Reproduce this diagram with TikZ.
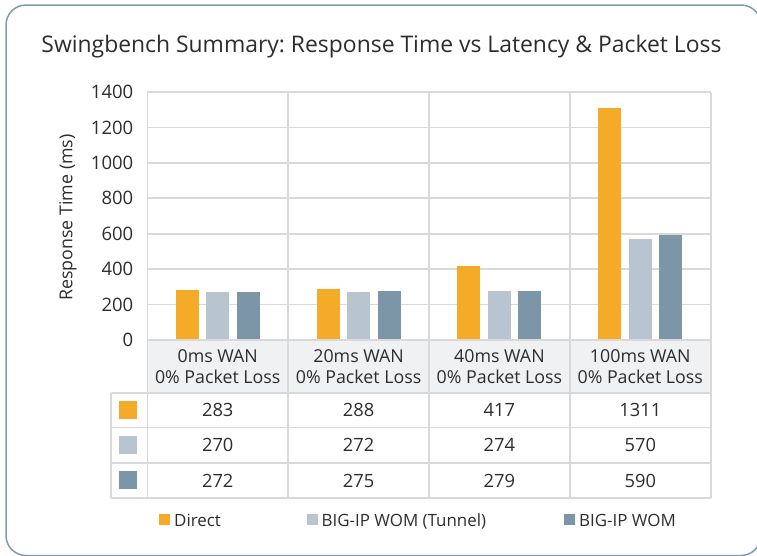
\documentclass[tikz,border=0pt]{standalone}
\usepackage{fontspec}
\setmainfont{Open Sans}
\frenchspacing
\definecolor{cDirect}{RGB}{245,170,40}
\definecolor{cTunnel}{RGB}{184,196,208}
\definecolor{cWom}{RGB}{124,150,167}
\definecolor{cGrid}{RGB}{217,217,217}
\definecolor{cHead}{RGB}{240,241,243}
\definecolor{cFrame}{RGB}{127,155,176}
\definecolor{cText}{RGB}{45,45,45}
\tikzset{
  gridline/.style={draw=cGrid,line width=1.6pt},
  framebox/.style={draw=cFrame,line width=1.5pt,rounded corners=20pt},
  ticklabel/.style={anchor=east,inner sep=0pt,text=cText,font=\fontsize{18.5}{21}\selectfont},
  catlabel/.style={align=center,inner sep=0pt,text=cText,font=\fontsize{17.8}{20.5}\selectfont},
  cellnum/.style={inner sep=0pt,text=cText,font=\fontsize{18.3}{21}\selectfont},
  legtext/.style={anchor=base west,inner sep=0pt,text=cText,font=\fontsize{16.9}{19}\selectfont},
  titletext/.style={anchor=base,inner sep=0pt,text=cText,font=\fontsize{22.9}{28}\selectfont},
  axistitle/.style={rotate=90,inner sep=0pt,text=cText,font=\fontsize{17.8}{20}\selectfont},
}
\begin{document}
\begin{tikzpicture}[x=1pt,y=-1pt]
\useasboundingbox (0,0) rectangle (757,555);
% frame
\draw[framebox] (6,5) rectangle (761,555.5);
% title
\node[titletext] (title) at (381.5,52) {Swingbench Summary: Response Time vs Latency \& Packet Loss};
% header fill
\fill[cHead] (147.3,340) rectangle (710.7,392.7);
% geometry
\def\pl{147.3}\def\cw{140.85}\def\yz{340}\def\sc{0.17714}
% horizontal grid lines
\foreach \v in {200,400,...,1400}{
  \draw[gridline] (\pl,{\yz-\v*\sc}) -- (710.7,{\yz-\v*\sc});
}
% bars
\foreach \i/\a/\b/\c in {0/283/270/272,1/288/272/275,2/417/274/279,3/1311/570/590}{
  \pgfmathsetmacro{\cx}{\pl+(\i+0.5)*\cw}
  \fill[cDirect] ({\cx-30.5-11.5},\yz) rectangle ({\cx-30.5+11.5},{\yz-\a*\sc});
  \fill[cTunnel] ({\cx-11.5},\yz) rectangle ({\cx+11.5},{\yz-\b*\sc});
  \fill[cWom] ({\cx+30.5-11.5},\yz) rectangle ({\cx+30.5+11.5},{\yz-\c*\sc});
}
% table horizontal lines
\draw[gridline] (\pl,340) -- (710.7,340);
\draw[gridline] (111,392.7) -- (710.7,392.7);
\draw[gridline] (111,427.5) -- (710.7,427.5);
\draw[gridline] (111,463) -- (710.7,463);
\draw[gridline] (111,497.7) -- (710.7,497.7);
% vertical lines
\foreach \i in {0,1,2,3,4}{
  \draw[gridline] ({\pl+\i*\cw},92.5) -- ({\pl+\i*\cw},497.7);
}
\draw[gridline] (111,392.7) -- (111,497.7);
% tick labels
\foreach \v in {0,200,...,1400}{
  \node[ticklabel] (t\v) at (133.5,{\yz-\v*\sc}) {\v};
}
% axis title
\node[axistitle] (ytitle) at (68,217.5) {Response Time (ms)};
% category labels
\node[catlabel] (c0) at ({\pl+0.5*\cw},366.5) {0ms WAN\\0\% Packet Loss};
\node[catlabel] (c1) at ({\pl+1.5*\cw},366.5) {20ms WAN\\0\% Packet Loss};
\node[catlabel] (c2) at ({\pl+2.5*\cw},366.5) {40ms WAN\\0\% Packet Loss};
\node[catlabel] (c3) at ({\pl+3.5*\cw},366.5) {100ms WAN\\0\% Packet Loss};
% table legend keys
\fill[cDirect] (119,401) rectangle (137,419);
\fill[cTunnel] (119,436) rectangle (137,454);
\fill[cWom] (119,471) rectangle (137,489);
% table values
\foreach \i/\a/\b/\c in {0/283/270/272,1/288/272/275,2/417/274/279,3/1311/570/590}{
  \pgfmathsetmacro{\cx}{\pl+(\i+0.5)*\cw}
  \node[cellnum] (va\i) at (\cx,410) {\a};
  \node[cellnum] (vb\i) at (\cx,445.3) {\b};
  \node[cellnum] (vc\i) at (\cx,480.5) {\c};
}
% legend
\fill[cDirect] (159,514) rectangle (170,525);
\node[legtext] (l1) at (174,526) {Direct};
\fill[cTunnel] (306.7,514) rectangle (317.7,525);
\node[legtext] (l2) at (321.5,526) {BIG-IP WOM (Tunnel)};
\fill[cWom] (564,514) rectangle (575,525);
\node[legtext] (l3) at (579,526) {BIG-IP WOM};
\end{tikzpicture}
\end{document}
